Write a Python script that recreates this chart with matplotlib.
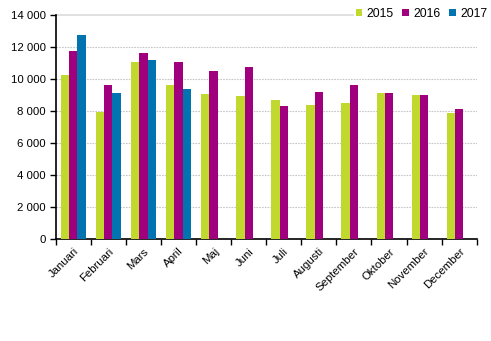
import numpy as np
import matplotlib.pyplot as plt
from matplotlib.ticker import FuncFormatter

months = ['Januari', 'Februari', 'Mars', 'April', 'Maj', 'Juni', 'Juli',
          'Augusti', 'September', 'Oktober', 'November', 'December']
y2015 = [10270, 7960, 11080, 9640, 9080, 8960, 8710, 8390, 8520, 9140, 9020, 7890]
y2016 = [11770, 9640, 11640, 11080, 10520, 10770, 8330, 9210, 9640, 9140, 9020, 8140]
y2017 = [12770, 9140, 11200, 9390, np.nan, np.nan, np.nan, np.nan, np.nan, np.nan, np.nan, np.nan]

series = [('2015', y2015, '#C1D82F'), ('2016', y2016, '#A0007E'), ('2017', y2017, '#0073B0')]

plt.rcParams['font.family'] = ['Liberation Sans', 'DejaVu Sans']
fig = plt.figure(figsize=(4.91, 3.41), dpi=100)
ax = fig.add_axes([55.7/491, 1 - 239.3/341, 421/491, 224.3/341])

x = np.arange(len(months))
w = 0.237
for i, (name, vals, col) in enumerate(series):
    ax.bar(x + (i - 1) * w, vals, w, color=col, label=name, zorder=3)

ax.set_xlim(-0.5, len(months) - 0.5)
ax.set_ylim(0, 14000)
ax.set_yticks(range(0, 14001, 2000))
ax.yaxis.set_major_formatter(FuncFormatter(lambda v, p: f'{int(v):,}'.replace(',', ' ')))
ax.set_xticks(x)
ax.set_xticklabels(months, rotation=45, ha='right', rotation_mode='anchor')
ax.set_xticks(np.arange(-0.5, len(months), 1), minor=True)
ax.tick_params(axis='x', which='major', length=0, labelsize=8.2, pad=5)
ax.tick_params(axis='x', which='minor', length=4, width=1, direction='out')
ax.tick_params(axis='y', length=4, width=1, labelsize=8.2, pad=3)

for v in range(2000, 14000, 2000):
    ax.axhline(v, color='#c6c6c6', lw=0.8, ls=(0, (1.5, 1)), zorder=1)
ax.axhline(14000, color='#dadada', lw=1.2, zorder=1, clip_on=False)

for s in ['top', 'right']:
    ax.spines[s].set_visible(False)
ax.spines['left'].set_linewidth(1.2)
ax.spines['bottom'].set_linewidth(1.2)

leg = fig.legend(loc='center right', bbox_to_anchor=(489/491, 1 - 14/341), ncol=3, frameon=True,
                 fontsize=8.8, handlelength=0.55, handleheight=0.55, handletextpad=0.35,
                 columnspacing=0.7, borderpad=0.15, borderaxespad=0, fancybox=False)
leg.get_frame().set_edgecolor('white')
leg.get_frame().set_facecolor('white')
leg.get_frame().set_alpha(1)

plt.savefig('out.png', dpi=100)
plt.close()
